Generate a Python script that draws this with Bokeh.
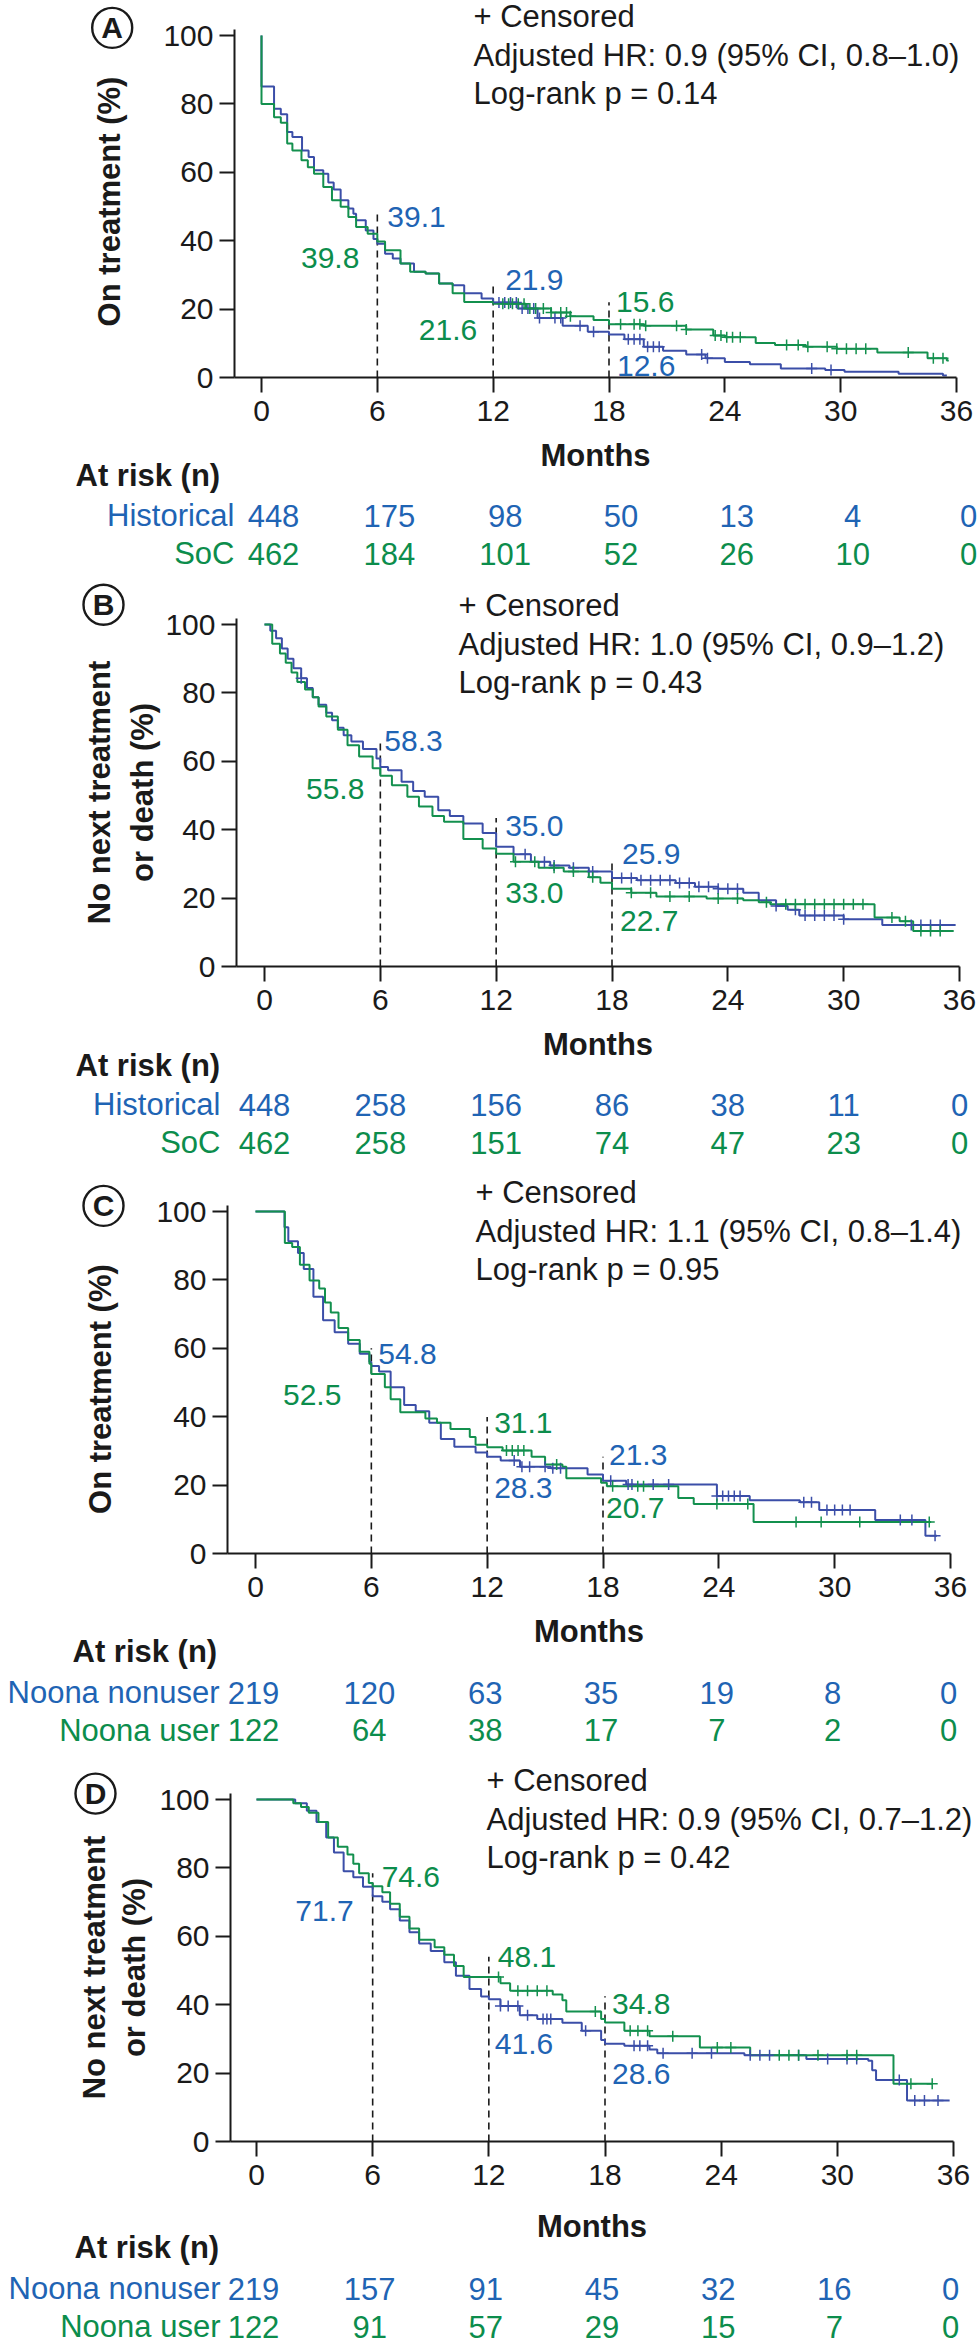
import math
from bokeh.plotting import figure
from bokeh.models import Range1d, FixedTicker
from bokeh.layouts import column, row
from bokeh.embed import file_html
from bokeh.resources import INLINE
from bokeh.core.properties import value

FONT = "Liberation Sans"
TXT_BLUE = "#1f64b4"
TXT_GREEN = "#0c8d4c"
LINE_BLUE = "#3b4ea8"
LINE_GREEN = "#13904e"
INK = "#1a1a1a"

month_ticks = [0, 6, 12, 18, 24, 30, 36]
pct_ticks = [0, 20, 40, 60, 80, 100]
milestones = [6, 12, 18]

# ---------------- Panel A: time on treatment, Historical vs SoC
a_title = ["On treatment (%)"]
a_stats = ["+ Censored", "Adjusted HR: 0.9 (95% CI, 0.8\u20131.0)", "Log-rank p = 0.14"]
a_groups = ["Historical", "SoC"]
a_hist_t = [0, 0, 0.65, 1.0, 1.33, 1.6, 2.1, 2.44, 2.72, 3.2, 3.46, 3.74, 4.1, 4.5, 4.76, 4.9, 5.4, 5.8, 6.0, 6.4,
            6.8, 7.2, 7.9, 8.5, 9.2, 9.9, 10.5, 11.4, 12.0, 13.3, 14.3, 15.6, 16.9, 18.0, 18.8, 19.8, 20.8, 22.0,
            23.0, 24.0, 25.3, 26.9, 29.2, 30.2, 33.0, 35.3, 35.5]
a_hist_s = [100, 85.1, 78.6, 77.0, 71.8, 70.3, 66.4, 64.5, 60.6, 59.6, 57.0, 55.0, 51.8, 49.4, 47.9, 46.0, 43.0, 40.5,
            39.1, 36.2, 34.8, 33.3, 30.9, 30.4, 27.5, 27.0, 24.6, 23.1, 21.9, 20.2, 17.4, 15.1, 13.4, 12.6, 11.2, 9.0,
            7.8, 6.7, 5.6, 4.5, 3.9, 2.6, 2.2, 1.7, 1.1, 0.6, 0.6]
a_soc_t = [0, 0, 0.65, 1.0, 1.33, 1.6, 2.07, 2.4, 2.72, 3.2, 3.65, 4.1, 4.5, 4.9, 5.5, 6.0, 6.4, 7.2, 7.7, 8.5,
           9.2, 9.9, 10.5, 12.0, 13.7, 15.0, 16.0, 17.2, 18.0, 19.8, 22.0, 23.4, 24.0, 25.6, 26.6, 28.2, 29.8, 31.9,
           34.5, 35.5, 35.6]
a_soc_s = [100, 80.0, 76.1, 74.5, 68.4, 66.4, 63.5, 61.5, 59.6, 55.7, 51.8, 49.9, 46.9, 44.0, 42.0, 39.8, 37.2, 33.3,
           30.9, 30.4, 27.5, 24.6, 22.1, 21.6, 20.2, 19.0, 17.9, 16.8, 15.6, 15.1, 14.0, 12.3, 11.8, 10.1, 9.5, 9.0,
           8.4, 7.3, 5.6, 5.0, 5.0]
a_hist_cens = [12.3, 12.6, 12.9, 13.2, 13.5, 13.8, 14.1, 14.4, 15.2, 15.5, 16.5, 17.2, 19.0, 19.3, 19.6, 20.0, 20.3,
               20.6, 22.8, 23.1, 28.5, 29.5]
a_soc_cens = [12.5, 12.8, 13.0, 13.3, 13.6, 13.9, 14.2, 14.6, 15.0, 15.5, 15.8, 16.0, 18.6, 19.3, 19.6, 19.9, 21.5,
              22.0, 23.5, 23.8, 24.1, 24.4, 24.8, 27.2, 27.8, 28.3, 29.3, 29.8, 30.3, 30.8, 31.3, 33.5, 34.8, 35.3]
a_risk_hist = [448, 175, 98, 50, 13, 4, 0]
a_risk_soc = [462, 184, 101, 52, 26, 10, 0]
a_mile_hist = [39.1, 21.9, 12.6]
a_mile_soc = [39.8, 21.6, 15.6]
a_guide_top = [49, 28, 22]

# ---------------- Panel B: no next treatment or death, Historical vs SoC
b_title = ["No next treatment", "or death (%)"]
b_stats = ["+ Censored", "Adjusted HR: 1.0 (95% CI, 0.9\u20131.2)", "Log-rank p = 0.43"]
b_groups = ["Historical", "SoC"]
b_hist_t = [0, 0.3, 0.6, 0.9, 1.2, 1.5, 1.9, 2.2, 2.5, 2.8, 3.2, 3.5, 3.8, 4.1, 4.5, 5.1, 5.8, 6.0, 6.4, 7.1, 7.7,
            8.3, 9.0, 9.6, 10.3, 11.3, 12.0, 12.9, 13.8, 14.8, 15.8, 16.8, 18.0, 19.3, 21.3, 22.3, 23.5, 24.8, 25.6,
            26.5, 27.1, 27.7, 30.0, 32.0, 35.8]
b_hist_s = [100, 98.2, 96.0, 93.0, 90.0, 87.2, 84.3, 81.4, 78.7, 76.5, 74.2, 72.0, 69.8, 67.6, 65.8, 63.6, 60.8,
            58.3, 57.4, 54.0, 51.3, 49.6, 45.7, 44.0, 41.8, 39.0, 35.0, 32.8, 30.6, 29.5, 28.9, 27.8, 25.9, 25.2,
            24.4, 23.3, 22.7, 21.6, 19.4, 17.7, 16.6, 14.9, 13.8, 12.1, 12.1]
b_soc_t = [0, 0.4, 0.8, 1.1, 1.4, 1.7, 2.1, 2.5, 2.8, 3.2, 3.8, 4.3, 4.9, 5.6, 6.0, 6.6, 7.4, 8.0, 8.7, 9.3, 10.3,
           11.3, 12.0, 12.9, 14.2, 15.5, 16.8, 17.4, 18.0, 19.0, 20.3, 22.9, 24.8, 25.6, 26.2, 31.6, 32.9, 33.6, 35.7]
b_soc_s = [100, 94.4, 91.5, 88.8, 86.0, 83.2, 81.0, 78.7, 76.0, 73.1, 69.2, 64.7, 61.4, 58.0, 55.8, 53.0, 49.6, 46.8,
           44.0, 42.3, 37.3, 34.5, 33.0, 30.6, 28.9, 27.8, 26.1, 24.5, 22.7, 21.6, 20.5, 19.9, 19.4, 18.8, 18.2,
           14.3, 13.2, 10.4, 10.4]
b_hist_cens = [1.9, 13.5, 14.5, 15.0, 16.0, 17.0, 18.5, 19.0, 19.5, 20.0, 20.5, 21.0, 21.5, 22.0, 22.5, 23.0, 23.5,
               24.0, 24.5, 26.5, 27.5, 28.0, 28.5, 29.0, 29.5, 30.0, 33.5, 34.0, 34.5, 35.0]
b_soc_cens = [13.0, 14.0, 15.0, 16.0, 17.0, 19.0, 20.0, 21.0, 22.0, 23.5, 24.5, 26.0, 27.0, 27.5, 28.0, 28.5, 29.0,
              29.5, 30.0, 30.5, 31.0, 32.5, 33.2, 34.0, 34.5, 35.0]
b_risk_hist = [448, 258, 156, 86, 38, 11, 0]
b_risk_soc = [462, 258, 151, 74, 47, 23, 0]
b_mile_hist = [58.3, 35.0, 25.9]
b_mile_soc = [55.8, 33.0, 22.7]
b_guide_top = [66.6, 43.4, 31]

# ---------------- Panel C: time on treatment, Noona nonuser vs user
c_title = ["On treatment (%)"]
c_stats = ["+ Censored", "Adjusted HR: 1.1 (95% CI, 0.8\u20131.4)", "Log-rank p = 0.95"]
c_groups = ["Noona nonuser", "Noona user"]
c_non_t = [0, 1.5, 1.7, 2.2, 2.5, 3.0, 3.5, 4.1, 4.8, 5.4, 5.9, 6.0, 6.4, 7.0, 7.7, 8.3, 9.0, 9.6, 10.3, 11.4, 12.0,
           12.7, 13.7, 15.3, 17.2, 18.0, 19.2, 23.9, 25.6, 28.2, 29.2, 32.1, 34.7, 35.3]
c_non_s = [100, 95.4, 91.3, 87.9, 83.2, 75.1, 68.2, 64.7, 61.3, 58.4, 56.0, 54.8, 53.2, 48.6, 43.4, 41.6, 38.2, 33.5,
           31.2, 29.5, 28.3, 27.2, 25.4, 24.9, 23.1, 21.3, 20.2, 16.8, 15.6, 15.0, 12.7, 9.8, 5.2, 5.2]
c_use_t = [0, 1.52, 1.9, 2.3, 2.8, 3.3, 3.6, 3.9, 4.3, 4.8, 5.4, 5.9, 6.0, 6.7, 7.0, 7.5, 8.8, 9.4, 10.1, 11.1, 11.4,
           12.0, 12.8, 14.3, 15.0, 15.9, 16.1, 17.9, 18.2, 21.9, 22.7, 25.8, 35.0]
c_use_s = [100, 90.8, 89.6, 84.4, 79.8, 77.5, 73.4, 70.5, 65.9, 62.4, 59.0, 55.5, 52.5, 48.6, 45.1, 41.3, 39.5, 38.2,
           36.4, 34.1, 31.8, 31.1, 30.1, 28.3, 26.0, 25.4, 22.0, 20.7, 19.7, 16.2, 14.5, 9.2, 9.2]
c_non_cens = [13.4, 13.8, 14.2, 15.0, 15.4, 15.8, 18.4, 19.3, 19.5, 20.6, 21.4, 23.9, 24.2, 24.5, 24.8, 25.1, 28.4,
              28.8, 29.6, 30.0, 30.4, 30.8, 33.4, 34.0, 35.2]
c_use_cens = [13.0, 13.3, 13.6, 13.9, 15.6, 18.5, 19.8, 20.1, 23.9, 25.5, 28.0, 29.3, 31.3, 34.9]
c_risk_non = [219, 120, 63, 35, 19, 8, 0]
c_risk_use = [122, 64, 38, 17, 7, 2, 0]
c_mile_non = [54.8, 28.3, 21.3]
c_mile_use = [52.5, 31.1, 20.7]
c_guide_top = [60, 39.9, 28.3]

# ---------------- Panel D: no next treatment or death, Noona nonuser vs user
d_title = ["No next treatment", "or death (%)"]
d_stats = ["+ Censored", "Adjusted HR: 0.9 (95% CI, 0.7\u20131.2)", "Log-rank p = 0.42"]
d_groups = ["Noona nonuser", "Noona user"]
d_non_t = [0, 2.0, 2.6, 3.1, 3.6, 4.0, 4.5, 5.0, 5.5, 6.0, 6.5, 6.9, 7.4, 7.9, 8.4, 9.0, 9.7, 10.3, 11.0, 11.6, 12.0,
           12.6, 13.6, 14.5, 15.8, 16.8, 17.8, 18.0, 19.0, 20.3, 20.7, 25.2, 28.4, 31.6, 31.8, 32.0, 33.6, 35.8]
d_non_s = [100, 98.9, 96.7, 93.4, 88.9, 84.5, 79.0, 77.3, 74.5, 71.7, 70.1, 67.9, 64.6, 61.2, 57.9, 55.7, 52.4, 48.5,
           44.6, 42.4, 41.6, 39.6, 36.9, 35.8, 34.7, 32.4, 29.7, 28.6, 28.0, 26.9, 25.8, 25.2, 24.1, 23.6, 20.8, 18.0,
           12.0, 12.0]
d_use_t = [0, 1.9, 2.3, 2.7, 3.2, 3.7, 4.2, 4.7, 5.0, 5.3, 5.8, 6.0, 6.5, 6.9, 7.4, 7.9, 8.4, 9.2, 9.7, 10.2, 10.7,
           12.6, 13.1, 15.3, 15.8, 16.0, 17.8, 18.0, 19.0, 20.3, 22.9, 25.5, 32.9, 34.9]
d_use_s = [100, 98.9, 97.8, 96.1, 93.4, 88.9, 86.2, 83.9, 81.2, 78.4, 75.6, 74.6, 72.9, 69.5, 65.7, 62.3, 59.0, 56.8,
           54.6, 51.3, 48.1, 46.3, 44.1, 43.0, 41.3, 38.0, 35.8, 34.8, 32.4, 30.8, 27.5, 25.2, 16.9, 16.9]
d_non_cens = [12.6, 13.0, 13.5, 14.0, 14.8, 15.0, 15.2, 17.0, 19.5, 19.8, 20.2, 21.0, 22.5, 23.5, 25.5, 26.0, 26.5,
              28.0, 29.5, 30.5, 31.0, 33.2, 34.0, 34.5, 35.2]
d_use_cens = [12.5, 13.5, 14.0, 14.5, 15.0, 17.5, 19.3, 19.7, 20.2, 21.5, 23.8, 24.5, 27.0, 27.5, 28.0, 29.0, 30.5,
              31.0, 33.8, 34.9]
d_risk_non = [219, 157, 91, 45, 32, 16, 0]
d_risk_use = [122, 91, 57, 29, 15, 7, 0]
d_mile_non = [71.7, 41.6, 28.6]
d_mile_use = [74.6, 48.1, 34.8]
d_guide_top = [78.4, 54, 42.5]


def step_value(ts, ss, t):
    v = ss[0]
    for ti, si in zip(ts, ss):
        if ti <= t:
            v = si
    return v


def bare(width, height, xr, yr):
    f = figure(width=int(width), height=int(height), x_range=xr, y_range=yr, output_backend="svg",
               toolbar_location=None, x_axis_location=None, y_axis_location=None, min_border=0)
    f.grid.visible = False
    f.outline_line_color = None
    return f


def txt(f, x, y, s, color=INK, size="31px", align="left", style="normal", xo=0, angle=0.0):
    f.text(x=[x], y=[y], text=[s], x_offset=xo, angle=angle, text_align=align, text_baseline="middle",
           text_font=value(FONT), text_font_size=size, text_font_style=style, text_color=color)


def panel(letter, ytitle, stats, groups, series, censors, risks, miles, guide_top, g, value_labels):
    # g: layout in page pixels; pxu / pyu: pixels per month / per percent
    pxu = (g["x36"] - g["x0"]) / 36.0
    pyu = (g["y0"] - g["y100"]) / 100.0
    mb = 60                                   # room under the frame for ticks and tick labels
    fr_h = int(round(g["y0"] - g["top"]))     # frame reaches the top edge of the panel
    ht = fr_h + mb
    hb = g["h"] - ht
    lw = g["spine"] - 75                      # strip holding the panel letter and the axis title

    # ---- left strip: panel letter and y-axis title
    lf = bare(lw, ht, Range1d(0, lw), Range1d(0, ht))
    cy = ht - (g["cy"] - g["top"])
    lf.scatter(x=[g["cx"]], y=[cy], marker="circle", size=40, fill_color=None,
               line_color=INK, line_width=2.4)
    txt(lf, g["cx"], cy, letter, size="30px", align="center", style="bold")
    ty = ht - (g["ty"] + 30 - g["top"])
    for line, tx in zip(ytitle, g["tx"]):
        txt(lf, tx, ty, line, size="31px", align="center", style="bold", angle=math.pi / 2)

    # ---- survival plot
    xs = -(g["x0"] - g["spine"]) / pxu
    xe = 36 + (980 - g["x36"]) / pxu
    p = figure(width=980 - lw, height=ht, x_range=Range1d(xs, xe), y_range=Range1d(0, fr_h / pyu),
               output_backend="svg", toolbar_location=None,
               min_border_left=75, min_border_right=0, min_border_top=0, min_border_bottom=mb)
    p.outline_line_color = None
    p.grid.visible = False
    p.xaxis.ticker = FixedTicker(ticks=month_ticks)
    p.yaxis.ticker = FixedTicker(ticks=pct_ticks)
    p.xaxis.bounds = (xs, 36)
    p.yaxis.bounds = (0, 100 + 6 / pyu)
    for ax in (p.xaxis[0], p.yaxis[0]):
        ax.minor_tick_line_color = None
        ax.major_tick_in = 0
        ax.major_tick_out = 15
        ax.axis_line_width = 2
        ax.major_tick_line_width = 2
        ax.axis_line_color = INK
        ax.major_tick_line_color = INK
        ax.major_label_text_font = FONT
        ax.major_label_text_font_size = "30px"
        ax.major_label_text_color = INK
    p.xaxis.major_label_standoff = 8
    p.yaxis.major_label_standoff = 6

    line_cols = [LINE_BLUE, LINE_GREEN]
    txt_cols = [TXT_BLUE, TXT_GREEN]

    p.segment(x0=milestones, y0=[0, 0, 0], x1=milestones, y1=guide_top,
              line_color=INK, line_width=1.6, line_dash="7 5")
    for (ts, ss), col in zip(series, line_cols):
        p.step(x=ts, y=ss, mode="after", line_color=col, line_width=2)
    for (ts, ss), cens, col in zip(series, censors, line_cols):
        p.scatter(x=cens, y=[step_value(ts, ss, c) for c in cens], marker="cross",
                  size=11, line_color=col, line_width=1.5)

    for gi, mi, ypos, align, xo in value_labels:
        txt(p, milestones[mi], ypos, "%.1f" % miles[gi][mi], color=txt_cols[gi], size="30px",
            align=align, xo=xo)

    for s, off in zip(stats, [19, -20, -58]):
        txt(p, 0, 100 + off / pyu, s, xo=g["sx"] - g["x0"])

    # ---- at-risk table (full width strip, same month scale)
    rf = bare(980, hb, Range1d(-g["x0"] / pxu, 36 + (980 - g["x36"]) / pxu), Range1d(0, hb))
    rtop = g["top"] + ht
    txt(rf, (xs + 36) / 2, hb - (g["my"] - rtop), "Months", size="31px", align="center", style="bold")
    txt(rf, 0, hb - (g["ay"] - rtop), "At risk (n)", size="31px", style="bold", xo=g["ax"] - g["x0"])
    for gi, (grp, counts) in enumerate(zip(groups, risks)):
        yy = hb - (g["rows"][gi] - rtop)
        txt(rf, 0, yy, grp, color=txt_cols[gi], align="right", xo=g["rl"] - g["x0"])
        rf.text(x=month_ticks, y=[yy] * len(month_ticks), text=[str(n) for n in counts], x_offset=g["nx"],
                text_align="center", text_baseline="middle", text_font=value(FONT),
                text_font_size="31px", text_color=txt_cols[gi])

    return column(row(lf, p, spacing=0), rf, spacing=0)


# page-pixel geometry of each panel
geo_a = dict(top=0, h=578, spine=234, x0=261, x36=956, y100=35, y0=377, cx=111.7, cy=31.7,
             tx=[109], ty=203, sx=473, my=455, ax=75, ay=475, rows=[515, 553], rl=234, nx=12)
geo_b = dict(top=578, h=589, spine=236, x0=264, x36=959, y100=624, y0=966, cx=103, cy=608.3,
             tx=[99, 142], ty=795, sx=458, my=1044, ax=75, ay=1065, rows=[1104, 1142], rl=220, nx=0)
geo_c = dict(top=1167, h=588, spine=227, x0=255, x36=950, y100=1211, y0=1553, cx=103, cy=1211.3,
             tx=[100], ty=1393, sx=475, my=1631, ax=72, ay=1651, rows=[1692, 1729.5], rl=219, nx=-2)
geo_d = dict(top=1755, h=589, spine=230, x0=256, x36=953, y100=1799, y0=2141, cx=95, cy=1799,
             tx=[94, 134], ty=1970, sx=486, my=2226, ax=74, ay=2247, rows=[2288, 2326], rl=220, nx=-3)

# (group index, milestone index, label y position, alignment, pixel offset)
vl_a = [(0, 0, 47, "left", 10), (1, 0, 35, "right", -18), (0, 1, 28.6, "left", 12), (1, 1, 14, "right", -16),
        (1, 2, 22, "left", 7), (0, 2, 3.5, "left", 8)]
vl_b = [(0, 0, 66, "left", 4), (1, 0, 52, "right", -16), (0, 1, 41.2, "left", 9), (1, 1, 21.6, "left", 9),
        (0, 2, 32.9, "left", 10), (1, 2, 13.3, "left", 8)]
vl_c = [(0, 0, 58.4, "left", 7), (1, 0, 46.3, "right", -30), (1, 1, 38.2, "left", 7), (0, 1, 19.1, "left", 7),
        (0, 2, 28.9, "left", 6), (1, 2, 13.3, "left", 3)]
vl_d = [(1, 0, 77.2, "left", 9), (0, 0, 67.3, "right", -19), (1, 1, 54, "left", 9), (0, 1, 28.5, "left", 6),
        (1, 2, 40.2, "left", 7), (0, 2, 19.7, "left", 7)]

pa = panel("A", a_title, a_stats, a_groups, [(a_hist_t, a_hist_s), (a_soc_t, a_soc_s)],
           [a_hist_cens, a_soc_cens], [a_risk_hist, a_risk_soc], [a_mile_hist, a_mile_soc], a_guide_top, geo_a, vl_a)
pb = panel("B", b_title, b_stats, b_groups, [(b_hist_t, b_hist_s), (b_soc_t, b_soc_s)],
           [b_hist_cens, b_soc_cens], [b_risk_hist, b_risk_soc], [b_mile_hist, b_mile_soc], b_guide_top, geo_b, vl_b)
pc = panel("C", c_title, c_stats, c_groups, [(c_non_t, c_non_s), (c_use_t, c_use_s)],
           [c_non_cens, c_use_cens], [c_risk_non, c_risk_use], [c_mile_non, c_mile_use], c_guide_top, geo_c, vl_c)
pd_ = panel("D", d_title, d_stats, d_groups, [(d_non_t, d_non_s), (d_use_t, d_use_s)],
            [d_non_cens, d_use_cens], [d_risk_non, d_risk_use], [d_mile_non, d_mile_use], d_guide_top, geo_d, vl_d)

layout = column(pa, pb, pc, pd_, spacing=0)
open("out.html", "w").write(file_html(layout, INLINE))
